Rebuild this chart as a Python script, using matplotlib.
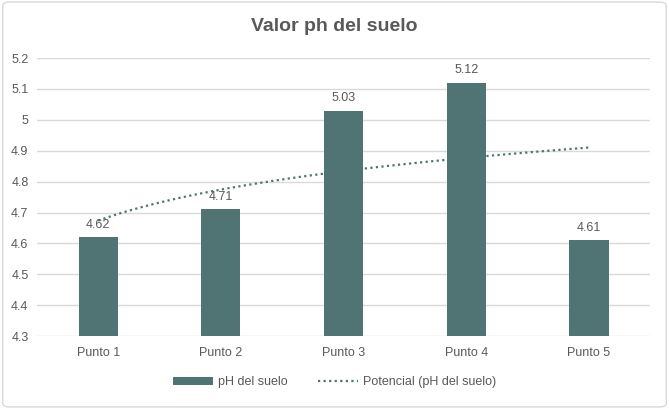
import numpy as np
import matplotlib
matplotlib.use("Agg")
import matplotlib.pyplot as plt
from matplotlib.patches import FancyBboxPatch

plt.rcParams['font.family'] = ['Liberation Sans', 'DejaVu Sans']

categories = ["Punto 1", "Punto 2", "Punto 3", "Punto 4", "Punto 5"]
ph_values = [4.62, 4.71, 5.03, 5.12, 4.61]
y_ticks = [4.3, 4.4, 4.5, 4.6, 4.7, 4.8, 4.9, 5.0, 5.1, 5.2]
y_labels = ["4.3", "4.4", "4.5", "4.6", "4.7", "4.8", "4.9", "5", "5.1", "5.2"]

bar_color = "#507474"
text_color = "#595959"
grid_color = "#d9d9d9"

fig = plt.figure(figsize=(6.69, 4.09), dpi=100)
ax = fig.add_axes([0.055, 0.178, 0.917, 0.68])

x = np.arange(1, len(categories) + 1)

# power trendline (like Excel's "Potencial") fitted on the data
b, log_a = np.polyfit(np.log(x), np.log(ph_values), 1)
xt = np.linspace(1, len(categories), 200)
yt = np.exp(log_a) * xt ** b
ax.plot(xt, yt, linestyle=(0, (1, 1.5)), color=bar_color, linewidth=1.6,
        zorder=2, label="Potencial (pH del suelo)")

bars = ax.bar(x, ph_values, width=0.32, color=bar_color, zorder=3,
              label="pH del suelo")
for xi, v in zip(x, ph_values):
    ax.text(xi, v + 0.022, f"{v:g}", ha="center", va="bottom",
            fontsize=9, color=text_color)

ax.set_ylim(4.3, 5.2)
ax.set_xlim(0.5, len(categories) + 0.5)
ax.set_yticks(y_ticks)
ax.set_yticklabels(y_labels)
ax.set_xticks(x)
ax.set_xticklabels(categories)
ax.tick_params(axis="both", length=0, labelsize=9, colors=text_color)
ax.tick_params(axis="x", pad=8)
ax.tick_params(axis="y", pad=6)
ax.grid(axis="y", color=grid_color, linewidth=1, zorder=0)
ax.set_axisbelow(True)
for s in ax.spines.values():
    s.set_visible(False)

fig.suptitle("Valor ph del suelo", y=0.955, fontsize=14, fontweight="bold",
             color=text_color)

handles, labels = ax.get_legend_handles_labels()
leg = fig.legend(handles[::-1], labels[::-1], loc="center", ncol=2,
                 bbox_to_anchor=(0.5, 0.065), frameon=False, fontsize=9,
                 handlelength=3.2, handleheight=0.5, columnspacing=2.5,
                 handletextpad=0.4)
for t in leg.get_texts():
    t.set_color(text_color)

border = FancyBboxPatch((0.004, 0.005), 0.992, 0.99, boxstyle="round,pad=0,rounding_size=0.01",
                        transform=fig.transFigure, fill=False,
                        edgecolor="#d9d9d9", linewidth=1)
fig.patches.append(border)

fig.savefig("out.png", dpi=100)
